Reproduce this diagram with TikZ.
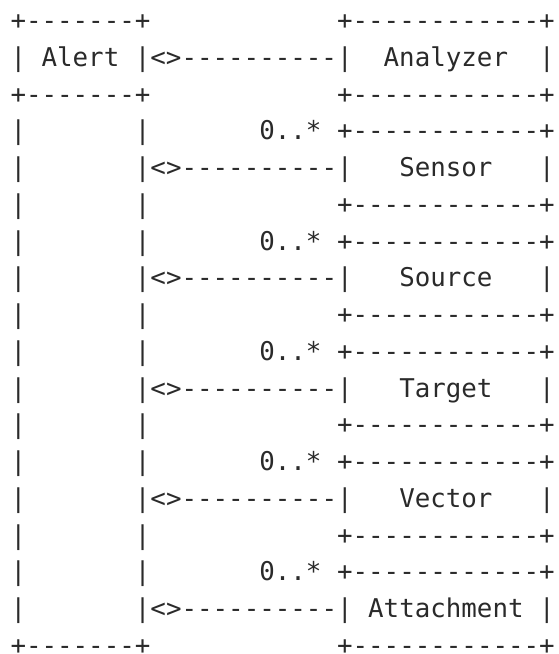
\documentclass[tikz,border=0pt]{standalone}
\usepackage{fontspec}
\newfontfamily\asciimono{DejaVu Sans Mono}[Ligatures=TeXOff]
\definecolor{ink}{HTML}{2A2A2A}
\tikzset{
  asciirow/.style={anchor=base west, inner sep=0pt, outer sep=0pt, text=ink,
    font=\asciimono\fontsize{25.83pt}{36.75pt}\selectfont}
}
\frenchspacing
\begin{document}
\begin{tikzpicture}[x=1pt,y=1pt]
\useasboundingbox (0,0) rectangle (558,654);
\node[asciirow] (r0)  at (10.5,624.4)  {+-------+~~~~~~~~~~~~+------------+};
\node[asciirow] (r1)  at (10.5,587.65) {|~Alert~|<>----------|~~Analyzer~~|};
\node[asciirow] (r2)  at (10.5,550.9)  {+-------+~~~~~~~~~~~~+------------+};
\node[asciirow] (r3)  at (10.5,514.15) {|~~~~~~~|~~~~~~~0..*~+------------+};
\node[asciirow] (r4)  at (10.5,477.4)  {|~~~~~~~|<>----------|~~~Sensor~~~|};
\node[asciirow] (r5)  at (10.5,440.65) {|~~~~~~~|~~~~~~~~~~~~+------------+};
\node[asciirow] (r6)  at (10.5,403.9)  {|~~~~~~~|~~~~~~~0..*~+------------+};
\node[asciirow] (r7)  at (10.5,367.15) {|~~~~~~~|<>----------|~~~Source~~~|};
\node[asciirow] (r8)  at (10.5,330.4)  {|~~~~~~~|~~~~~~~~~~~~+------------+};
\node[asciirow] (r9)  at (10.5,293.65) {|~~~~~~~|~~~~~~~0..*~+------------+};
\node[asciirow] (r10) at (10.5,256.9)  {|~~~~~~~|<>----------|~~~Target~~~|};
\node[asciirow] (r11) at (10.5,220.15) {|~~~~~~~|~~~~~~~~~~~~+------------+};
\node[asciirow] (r12) at (10.5,183.4)  {|~~~~~~~|~~~~~~~0..*~+------------+};
\node[asciirow] (r13) at (10.5,146.65) {|~~~~~~~|<>----------|~~~Vector~~~|};
\node[asciirow] (r14) at (10.5,109.9)  {|~~~~~~~|~~~~~~~~~~~~+------------+};
\node[asciirow] (r15) at (10.5,73.15)  {|~~~~~~~|~~~~~~~0..*~+------------+};
\node[asciirow] (r16) at (10.5,36.4)   {|~~~~~~~|<>----------|~Attachment~|};
\node[asciirow] (r17) at (10.5,-0.35)  {+-------+~~~~~~~~~~~~+------------+};
\end{tikzpicture}
\end{document}
